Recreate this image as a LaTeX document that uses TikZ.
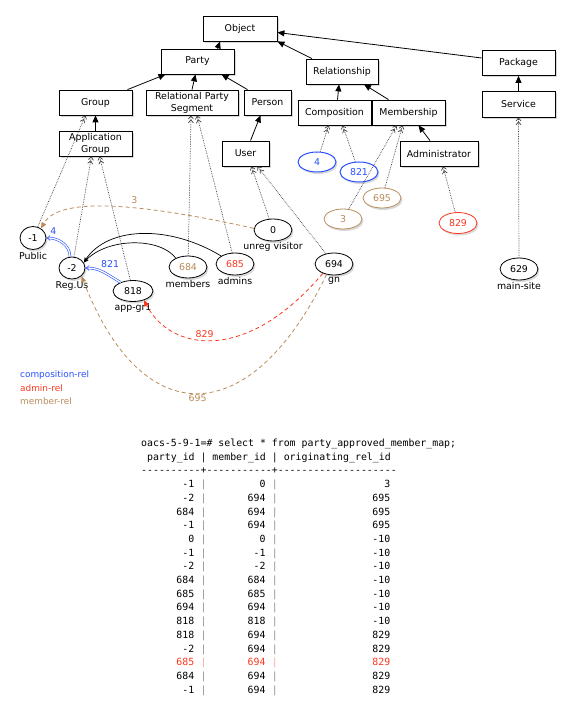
\documentclass[tikz,border=0pt]{standalone}
\usepackage{fontspec}
\setmainfont{DejaVu Sans}
\setmonofont{DejaVu Sans Mono}
\usetikzlibrary{arrows.meta,shapes.geometric,shadows}

\definecolor{relblue}{RGB}{40,80,255}
\definecolor{relred}{RGB}{250,55,30}
\definecolor{relbrown}{RGB}{185,140,90}

\tikzset{
  boxshadow/.style={drop shadow={shadow xshift=1.5pt, shadow yshift=-2pt, opacity=0.3}},
  classbox/.style={draw, fill=white, line width=0.8pt, minimum width=73pt, minimum height=25pt,
    inner sep=2pt, align=center, font=\fontsize{9.4}{12}\selectfont, boxshadow},
  inst/.style={ellipse, draw, fill=white, line width=0.8pt, minimum width=38pt, minimum height=22pt,
    inner sep=0pt, font=\fontsize{9.4}{11}\selectfont, boxshadow},
  isa/.style={draw, -{Triangle[length=7pt,width=6pt]}, line width=0.8pt},
  instof/.style={densely dotted, line width=0.7pt, black!75,
    -{Straight Barb[length=3pt,width=5pt] Straight Barb[length=3pt,width=5pt]}},
  plainrel/.style={-{Stealth[length=5pt,width=4pt]}, line width=0.7pt},
  comprel/.style={relblue, double=white, double distance=1.3pt, line width=0.6pt, -{Implies}},
  memberrel/.style={relbrown, dash pattern=on 4pt off 3pt, line width=0.8pt, -{Triangle[length=6pt,width=5pt]}},
  adminrel/.style={relred, dash pattern=on 4pt off 3pt, line width=0.8pt, -{Triangle[length=6pt,width=5pt]}},
  relnum/.style={font=\fontsize{9.4}{11}\selectfont, inner sep=1.5pt},
  legend/.style={font=\fontsize{8.9}{11}\selectfont, inner sep=0pt, anchor=west},
  sqltext/.style={font=\ttfamily\fontsize{9.87}{12}\selectfont, inner sep=0pt}
}

\begin{document}
\begin{tikzpicture}[x=1pt, y=1pt,
  every label/.style={font=\fontsize{9.4}{11}\selectfont, inner sep=1pt},
  label distance=1pt]
\useasboundingbox (0,0) rectangle (576,-711);

% class hierarchy
\node[classbox, minimum width=74pt] (object) at (240,-28.5) {Object};
\node[classbox] (party) at (197.5,-61.5) {Party};
\node[classbox] (group) at (95.5,-102.5) {Group};
\node[classbox, minimum width=92pt] (rps) at (192,-102.5) {Relational Party\\Segment};
\node[classbox, minimum width=47pt] (person) at (267.5,-102.5) {Person};
\node[classbox] (appgroup) at (95.5,-143.5) {Application\\Group};
\node[classbox, minimum width=47pt] (user) at (245.5,-153.5) {User};
\node[classbox, minimum width=72pt] (relationship) at (342,-71.5) {Relationship};
\node[classbox] (composition) at (334.5,-112.5) {Composition};
\node[classbox] (membership) at (408.5,-112.5) {Membership};
\node[classbox, minimum width=78pt] (administrator) at (439,-153.5) {Administrator};
\node[classbox] (package) at (518.5,-63) {Package};
\node[classbox, minimum height=26pt] (service) at (518.5,-104) {Service};

\draw[isa] ([xshift=20pt]party.north) -- ([xshift=-20pt]object.south);
\draw[isa] ([xshift=-30pt]relationship.north) -- (object.south east);
\draw[isa] ([yshift=5pt]package.west) -- ([yshift=-4pt]object.east);
\draw[isa] ([xshift=32pt]group.north) -- ([xshift=-32pt]party.south);
\draw[isa] (rps.north) -- ([xshift=-2pt]party.south);
\draw[isa] ([xshift=-20pt]person.north) -- ([xshift=24pt]party.south);
\draw[isa] (appgroup.north) -- (group.south);
\draw[isa] ([xshift=5pt]user.north) -- ([xshift=-7pt]person.south);
\draw[isa] ([xshift=3pt]composition.north) -- ([xshift=-3pt]relationship.south);
\draw[isa] ([xshift=-20pt]membership.north) -- ([xshift=22pt]relationship.south);
\draw[isa] ([xshift=-9pt]administrator.north) -- ([xshift=10pt]membership.south);
\draw[isa] (service.north) -- (package.south);

% parties and relations
\node[inst, minimum width=26pt, minimum height=23pt, label=below:Public] (public) at (33,-238) {-1};
\node[inst, minimum width=26pt, label=below:Reg.Us] (regus) at (72,-268) {-2};
\node[inst, minimum width=40pt, minimum height=21pt, label=below:app-gr1] (appgr) at (133,-291) {818};
\node[inst, text=relbrown, label=below:members] (members) at (188,-267) {684};
\node[inst, text=relred, label=below:admins] (admins) at (235,-264) {685};
\node[inst, label={[label distance=0pt]below:unreg visitor}] (unreg) at (273,-230) {0};
\node[inst, label=below:gn] (gn) at (334,-264) {694};
\node[inst, label=below:main-site] (mainsite) at (519,-269) {629};
\node[inst, draw=relblue, text=relblue, line width=1pt, minimum height=20pt] (rel4) at (317,-162) {4};
\node[inst, draw=relblue, text=relblue, line width=1pt, minimum height=20pt] (rel821) at (359,-172) {821};
\node[inst, draw=relbrown, text=relbrown, minimum height=20pt] (rel695) at (382,-198) {695};
\node[inst, draw=relbrown, text=relbrown, minimum height=20pt] (rel3) at (343,-219) {3};
\node[inst, draw=relred, text=relred, minimum height=21pt] (rel829) at (458,-223) {829};

\draw[instof] (public) -- ([xshift=-10pt]group.south);
\draw[instof] (regus) -- ([xshift=-4pt]appgroup.south);
\draw[instof] (appgr) -- ([xshift=4pt]appgroup.south);
\draw[instof] (members) -- ([xshift=-1pt]rps.south);
\draw[instof] (admins) -- ([xshift=5pt]rps.south);
\draw[instof] (unreg) -- ([xshift=6pt]user.south);
\draw[instof] (gn) -- ([xshift=12pt]user.south);
\draw[instof] (rel4) -- ([xshift=-6pt]composition.south);
\draw[instof] (rel821) -- ([xshift=8pt]composition.south);
\draw[instof] (rel695) -- ([xshift=-6pt]membership.south);
\draw[instof] (rel3) -- ([xshift=-12pt]membership.south);
\draw[instof] (rel829) -- ([xshift=4pt]administrator.south);
\draw[instof] (mainsite) -- (service.south);

\draw[comprel] (regus.100) to[out=90, in=0]
  node[relnum, text=relblue, above=3pt, pos=0.8] (lbl4) {4} (public.east);
\draw[comprel] (appgr.145) to[out=150, in=0]
  node[relnum, text=relblue, above=7pt, pos=0.3] (lbl821) {821} (regus.east);
\draw[plainrel] (members.144) .. controls +(-16,21) and +(24,25) .. (regus.25);
\draw[plainrel] (admins.150) .. controls +(-51,31) and +(24,37) .. (regus.25);
\draw[memberrel] (unreg.175) .. controls +(-104,23) and +(19,34) ..
  node[relnum, text=relbrown, above=3pt, pos=0.42] (lbl3) {3} (public.50);
\draw[adminrel] (gn.220) .. controls +(-78,-92) and +(26,-50) ..
  node[relnum, text=relred, above, pos=0.55] (lbl829) {829} (appgr.-40);
\draw[memberrel] (gn.235) .. controls +(-77,-158) and +(60,-156) ..
  node[relnum, text=relbrown, below, pos=0.5] (lbl695) {695} (regus.-40);

% legend
\node[legend, text=relblue] (legcomp) at (20,-375) {composition-rel};
\node[legend, text=relred] (legadmin) at (20,-388) {admin-rel};
\node[legend, text=relbrown] (legmember) at (20,-401) {member-rel};

% query result
\node[sqltext, anchor=base west] (query) at (141,-446.5) {oacs-5-9-1=\# select * from party\_approved\_member\_map;};
\node[sqltext, anchor=base west] (colhead) at (146.9,-460.2) {party\_id | member\_id | originating\_rel\_id};
\node[sqltext, anchor=base west] (rule) at (141,-473.9) {----------+-----------+--------------------};
\foreach \p/\m/\r/\c [count=\i] in {-1/0/3/black, -2/694/695/black, 684/694/695/black,
    -1/694/695/black, 0/0/-10/black, -1/-1/-10/black, -2/-2/-10/black, 684/684/-10/black,
    685/685/-10/black, 694/694/-10/black, 818/818/-10/black, 818/694/829/black,
    -2/694/829/black, 685/694/829/relred, 684/694/829/black, -1/694/829/black} {
  \node[sqltext, text=\c, anchor=base east] (pid\i) at (194.5,{-487.6-13.7*(\i-1)}) {\p};
  \node[sqltext, text=\c!45!white, anchor=base west] (bara\i) at (200.4,{-487.6-13.7*(\i-1)}) {|};
  \node[sqltext, text=\c, anchor=base east] (mid\i) at (265.7,{-487.6-13.7*(\i-1)}) {\m};
  \node[sqltext, text=\c!45!white, anchor=base west] (barb\i) at (271.7,{-487.6-13.7*(\i-1)}) {|};
  \node[sqltext, text=\c, anchor=base east] (rid\i) at (390.5,{-487.6-13.7*(\i-1)}) {\r};
}
\end{tikzpicture}
\end{document}
